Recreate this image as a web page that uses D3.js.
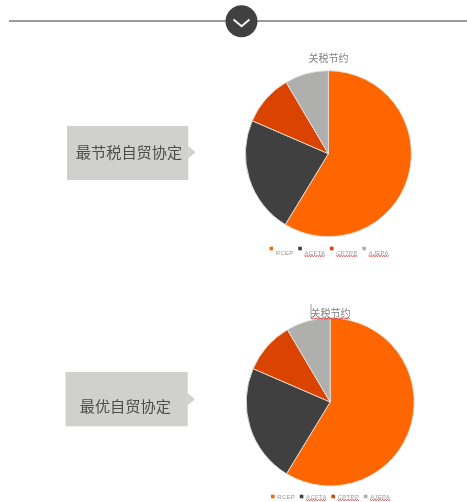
<!DOCTYPE html>
<html><head><meta charset="utf-8">
<script src="https://cdn.jsdelivr.net/npm/d3@7"></script>
<style>
html,body{margin:0;padding:0;background:#fff;overflow:hidden}
svg{display:block}
.soft{filter:blur(0.35px)}
text{font-family:"Noto Sans CJK SC","Noto Sans",sans-serif}
</style></head><body>
<svg id="c" width="467" height="502"></svg>
<script>
const categories = ["RCEP","ACFTA","CPTPP","AJEPA"];
const savingsTop = [58.7,22.8,10.0,8.5];
const savingsBottom = [58.7,22.8,10.0,8.5];
const chartTitle = "关税节约";
const labelTop = "最节税自贸协定";
const labelBottom = "最优自贸协定";
const colors = ["#ff6600","#404040","#da4400","#afafad"];

const svg = d3.select("#c");
const color = d3.scaleOrdinal(categories, colors);

// header rule with chevron button
svg.append("line").attr("x1",9).attr("x2",467).attr("y1",21).attr("y2",21)
  .attr("stroke","#7a7a7a").attr("stroke-width",1.6);
svg.append("circle").attr("cx",241.5).attr("cy",21.3).attr("r",16).attr("fill","#404040");
svg.append("path").attr("d",d3.line()([[233.5,19.5],[241.6,26.2],[249.5,19.5]]))
  .attr("fill","none").attr("stroke","#f4f4f4").attr("stroke-width",2);

function wavy(g,x0,x1,y){
  const pts=[];
  for(let x=x0,i=0;x<=x1+0.01;x+=1.25,i++)pts.push([x,y+(i%2?0.7:-0.3)]);
  g.append("path").attr("d",d3.line()(pts)).attr("fill","none")
    .attr("stroke","#d42a2a").attr("stroke-width",0.9);
}

function callout(o){
  const {x0,x1,y0,y1,tipX,tipY,text,textX,textY} = o;
  const g = svg.append("g").attr("class","soft");
  g.append("rect").attr("x",x0).attr("y",y0).attr("width",x1-x0).attr("height",y1-y0).attr("fill","#d0d0ce");
  g.append("path").attr("d",d3.line()([[x1,tipY-6],[tipX,tipY],[x1,tipY+6]])).attr("fill","#d0d0ce");
  g.append("text").attr("x",textX).attr("y",textY).attr("text-anchor","middle").attr("dominant-baseline","central")
    .attr("font-size",15.2).attr("fill","#4c4c4c").text(text);
}

function pieChart(o){
  const {values,cx,cy,r,titleX,titleY,legendX,legendY,swatchDy,marked} = o;
  const g = svg.append("g").attr("class","soft");
  const pie = d3.pie().sort(null).value(d=>d.v);
  const arc = d3.arc().innerRadius(0).outerRadius(r);
  const data = categories.map((c,i)=>({c,v:values[i]}));
  g.append("g").attr("transform",`translate(${cx},${cy})`).selectAll("path").data(pie(data)).join("path")
    .attr("d",arc).attr("fill",d=>color(d.data.c)).attr("stroke","#e4e2de").attr("stroke-width",0.9);
  g.append("text").attr("x",titleX).attr("y",titleY).attr("text-anchor","middle").attr("dominant-baseline","central")
    .attr("font-size",10).attr("fill","#808080").text(chartTitle);
  if(marked){
    g.append("line").attr("x1",titleX-19.5).attr("x2",titleX-19.5).attr("y1",titleY-8).attr("y2",titleY+5.5)
      .attr("stroke","#8a8a8a").attr("stroke-width",0.8);
    wavy(g,titleX-19.5,titleX+20,titleY+6.3);
  }
  // legend flows left to right from each label's measured width
  let x = legendX;
  categories.forEach(c=>{
    const item = g.append("g").attr("transform",`translate(${x},${legendY})`);
    item.append("rect").attr("x",-1.8).attr("y",swatchDy-1.8).attr("width",3.6).attr("height",3.6).attr("fill",color(c));
    const t = item.append("text").attr("x",4.5).attr("y",0).attr("dominant-baseline","central")
      .style("font-family","'Liberation Sans'")
      .attr("font-size",6).attr("letter-spacing",0.3).attr("fill","#999").text(c);
    const w = t.node().getComputedTextLength();
    if(c!=="RCEP") wavy(item,4.5,4.5+w,3.3);
    x += w + 10.9;
  });
}

callout({x0:67,x1:188.3,y0:126,y1:180,tipX:195.7,tipY:152.3,text:labelTop,textX:129,textY:151});
callout({x0:65.5,x1:187.7,y0:372,y1:426.3,tipX:195,tipY:399.3,text:labelBottom,textX:125.3,textY:405.3});

pieChart({values:savingsTop,cx:328.4,cy:153.7,r:83,titleX:328.6,titleY:57.7,legendX:271.3,legendY:252.5,swatchDy:-4,marked:false});
pieChart({values:savingsBottom,cx:330.2,cy:402,r:84,titleX:330.5,titleY:312,legendX:272.8,legendY:496.5,swatchDy:0,marked:true});
</script>
</body></html>
